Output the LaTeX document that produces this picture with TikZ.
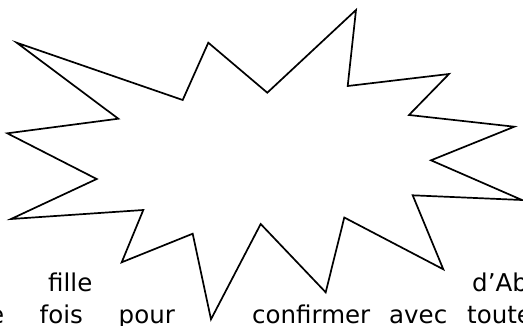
\documentclass[tikz,border=0pt]{standalone}
\usepackage{fontspec}
\setmainfont{DejaVu Sans}
\usetikzlibrary{positioning}

\begin{document}
\begin{tikzpicture}[x=1pt, y=-1pt, word/.style={anchor=base west, inner sep=0pt, font=\fontsize{24.5}{34}\selectfont}, burst/.style={draw, line width=1.7pt, line join=miter, fill=white}]
    \useasboundingbox (0,0) rectangle (523,325);
    \clip (0,0) rectangle (523,325);

    % Explosion
    \draw[burst] (16.7,42.7) -- (182.7,100) -- (208.3,42.7) -- (267.3,92.7)
        -- (356,10) -- (347.7,86) -- (449,74) -- (409,115) -- (514.3,126.7)
        -- (431,160.3) -- (522,200) -- (412.7,195.3) -- (443.3,269.3)
        -- (344.3,217.5) -- (325.7,292.3) -- (260.7,224) -- (211,319.3)
        -- (192.7,233.7) -- (121.7,262.3) -- (143.3,210) -- (11,219)
        -- (96.7,179) -- (7.3,133.3) -- (118.3,118.7) -- cycle;

    % Text, first line
    \node[word] (fille) at (48,291) {fille};
    \node[word] (dab) at (472,291) {d’Ab};

    % Text, second line
    \node[word, anchor=base east] (une) at (4.5,323.5) {e};
    \node[word] (fois) at (39.5,323.5) {fois};
    \node[word] (pour) at (118.5,323.5) {pour};
    \node[word] (confirmer) at (252,323.5) {confirmer};
    \node[word] (avec) at (389,323.5) {avec};
    \node[word] (toute) at (467,323.5) {toute};
\end{tikzpicture}
\end{document}
